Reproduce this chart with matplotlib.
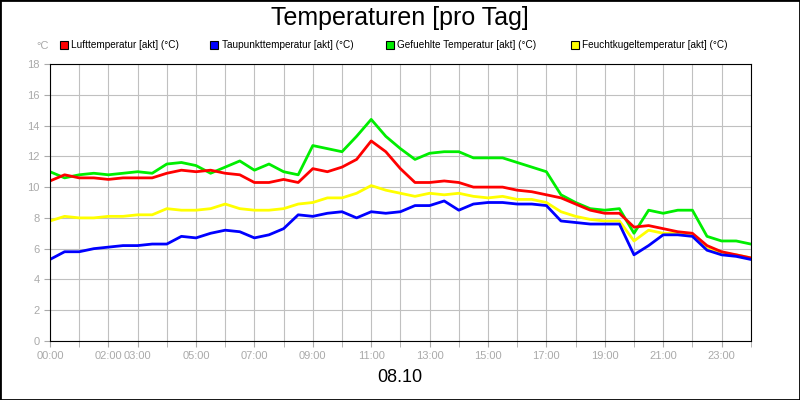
import numpy as np
import matplotlib.pyplot as plt
from matplotlib.patches import Rectangle

plt.rcParams["font.family"] = ["Liberation Sans", "DejaVu Sans"]

hours = np.arange(0, 24.01, 0.5)

luft = [10.4, 10.8, 10.6, 10.6, 10.5, 10.6, 10.6, 10.6, 10.9, 11.1, 11.0, 11.1, 10.9, 10.8,
        10.3, 10.3, 10.5, 10.3, 11.2, 11.0, 11.3, 11.8, 13.0, 12.3, 11.2, 10.3, 10.3, 10.4,
        10.3, 10.0, 10.0, 10.0, 9.8, 9.7, 9.5, 9.3, 8.9, 8.5, 8.3, 8.3, 7.4, 7.5, 7.3, 7.1,
        7.0, 6.2, 5.8, 5.6, 5.4]
taupunkt = [5.3, 5.8, 5.8, 6.0, 6.1, 6.2, 6.2, 6.3, 6.3, 6.8, 6.7, 7.0, 7.2, 7.1, 6.7, 6.9,
            7.3, 8.2, 8.1, 8.3, 8.4, 8.0, 8.4, 8.3, 8.4, 8.8, 8.8, 9.1, 8.5, 8.9, 9.0, 9.0,
            8.9, 8.9, 8.8, 7.8, 7.7, 7.6, 7.6, 7.6, 5.6, 6.2, 6.9, 6.9, 6.8, 5.9, 5.6, 5.5, 5.3]
gefuehlt = [11.0, 10.6, 10.8, 10.9, 10.8, 10.9, 11.0, 10.9, 11.5, 11.6, 11.4, 10.9, 11.3,
            11.7, 11.1, 11.5, 11.0, 10.8, 12.7, 12.5, 12.3, 13.3, 14.4, 13.3, 12.5, 11.8,
            12.2, 12.3, 12.3, 11.9, 11.9, 11.9, 11.6, 11.3, 11.0, 9.5, 9.0, 8.6, 8.5, 8.6,
            7.0, 8.5, 8.3, 8.5, 8.5, 6.8, 6.5, 6.5, 6.3]
feuchtkugel = [7.8, 8.1, 8.0, 8.0, 8.1, 8.1, 8.2, 8.2, 8.6, 8.5, 8.5, 8.6, 8.9, 8.6, 8.5,
               8.5, 8.6, 8.9, 9.0, 9.3, 9.3, 9.6, 10.1, 9.8, 9.6, 9.4, 9.6, 9.5, 9.6, 9.4,
               9.3, 9.4, 9.2, 9.2, 9.0, 8.4, 8.1, 7.9, 7.8, 7.8, 6.5, 7.2, 7.0, 7.0, 6.9, 6.0,
               5.7, 5.6, 5.4]

series = [
    ("Lufttemperatur [akt] (°C)", luft, "#ff0000"),
    ("Taupunkttemperatur [akt] (°C)", taupunkt, "#0000ff"),
    ("Gefuehlte Temperatur [akt] (°C)", gefuehlt, "#00ee00"),
    ("Feuchtkugeltemperatur [akt] (°C)", feuchtkugel, "#ffff00"),
]
tick_hours = [0, 2, 3, 5, 7, 9, 11, 13, 15, 17, 19, 21, 23]

fig = plt.figure(figsize=(8, 4), dpi=100)
fig.patches.append(Rectangle((0, 0), 1, 1, transform=fig.transFigure, fill=False,
                             edgecolor="black", linewidth=2))
ax = fig.add_axes([0.0625, 0.1475, 0.876, 0.6925])

# yellow, green, red, then blue on top
for idx in [3, 2, 0, 1]:
    name, vals, col = series[idx]
    ax.plot(hours, vals, color=col, linewidth=2)

ax.set_xlim(0, 24)
ax.set_ylim(0, 18)
ax.set_xticks(range(0, 25), minor=True)
ax.set_xticks(tick_hours)
ax.set_xticklabels([f"{h:02d}:00" for h in tick_hours])
ax.set_yticks(range(0, 19, 2))
ax.grid(which="both", color="#c0c0c0", linewidth=0.8)
ax.tick_params(which="both", colors="#aaaaaa", labelsize=8, length=4)
for s in ax.spines.values():
    s.set_color("black")

fig.text(0.5, 0.955, "Temperaturen [pro Tag]", ha="center", va="center", fontsize=18)
fig.text(0.5, 0.055, "08.10", ha="center", va="center", fontsize=13)
fig.text(0.045, 0.885, "°C", ha="left", va="center", fontsize=8, color="#aaaaaa")

legend_x = [0.075, 0.263, 0.482, 0.714]
for (name, vals, col), lx in zip(series, legend_x):
    fig.patches.append(Rectangle((lx, 0.877), 0.01, 0.02, transform=fig.transFigure,
                                 facecolor=col, edgecolor="black", linewidth=0.8))
    fig.text(lx + 0.014, 0.887, name, ha="left", va="center", fontsize=7.2)

fig.savefig("out.png")
